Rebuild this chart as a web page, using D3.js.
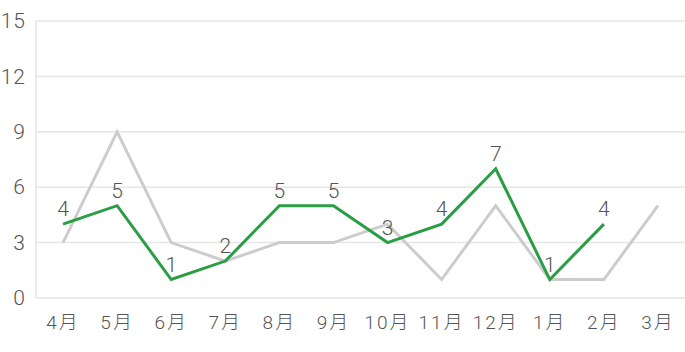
<!DOCTYPE html>
<html>
<head>
<meta charset="utf-8">
<script src="https://cdn.jsdelivr.net/npm/d3@7"></script>
<style>
  body { margin: 0; background: #fff; }
  svg text { font-family: Roboto, "Noto Sans CJK JP", sans-serif; font-weight: 300; fill: #555; }
</style>
</head>
<body>
<div id="chart"></div>
<script>
const months = ["4月", "5月", "6月", "7月", "8月", "9月", "10月", "11月", "12月", "1月", "2月", "3月"]
const grayValues = [3, 9, 3, 2, 3, 3, 4, 1, 5, 1, 1, 5]
const greenValues = [4, 5, 1, 2, 5, 5, 3, 4, 7, 1, 4]
const yTicks = [0, 3, 6, 9, 12, 15]

let dimensions = {
  width: 685,
  height: 352,
  margin: {top: 21, right: 0, bottom: 54, left: 36},
}
dimensions.boundedWidth = dimensions.width - dimensions.margin.left - dimensions.margin.right
dimensions.boundedHeight = dimensions.height - dimensions.margin.top - dimensions.margin.bottom

const svg = d3.select("#chart").append("svg")
    .attr("width", dimensions.width)
    .attr("height", dimensions.height)

const bounds = svg.append("g")
    .attr("transform", `translate(${dimensions.margin.left},${dimensions.margin.top})`)

const xScale = d3.scaleBand()
  .domain(months)
  .range([0, dimensions.boundedWidth])

const xPos = (i) => xScale(months[i]) + xScale.bandwidth() / 2

const yScale = d3.scaleLinear()
  .domain([0, 15])
  .range([dimensions.boundedHeight, 0])

// gridlines
bounds.append("g")
  .selectAll("line")
  .data(yTicks)
  .enter().append("line")
    .attr("x1", 0)
    .attr("x2", dimensions.boundedWidth)
    .attr("y1", d => yScale(d))
    .attr("y2", d => yScale(d))
    .attr("stroke", "#e6e6e6")
    .attr("stroke-width", 1.5)

bounds.append("line")
  .attr("x1", 0).attr("x2", 0)
  .attr("y1", 0).attr("y2", dimensions.boundedHeight)
  .attr("stroke", "#e6e6e6")
  .attr("stroke-width", 1.5)

// y labels
const yAxis = bounds.append("g")
  .call(d3.axisLeft(yScale).tickValues(yTicks).tickSize(0).tickPadding(10))
yAxis.select(".domain").remove()
yAxis.selectAll("text")
  .style("font-size", "21px")
  .style("letter-spacing", "1px")
  .attr("fill", "#555")

// x labels
const xAxis = bounds.append("g")
  .attr("transform", `translate(0,${dimensions.boundedHeight})`)
  .call(d3.axisBottom(xScale).tickSize(0).tickPadding(18))
xAxis.select(".domain").remove()
xAxis.selectAll("text")
  .style("font-size", "19px")
  .style("letter-spacing", "2px")
  .attr("fill", "#555")

const line = d3.line()
  .x((d, i) => xPos(i))
  .y(d => yScale(d))

bounds.append("path")
  .datum(grayValues)
  .attr("d", line)
  .attr("fill", "none")
  .attr("stroke", "#cccccc")
  .attr("stroke-width", 3)

bounds.append("path")
  .datum(greenValues)
  .attr("d", line)
  .attr("fill", "none")
  .attr("stroke", "#2a9d45")
  .attr("stroke-width", 3)

bounds.append("g")
  .selectAll("text")
  .data(greenValues)
  .enter().append("text")
    .attr("x", (d, i) => xPos(i))
    .attr("y", d => yScale(d) - 8)
    .attr("text-anchor", "middle")
    .style("font-size", "21px")
    .text(d => d)
</script>
</body>
</html>
